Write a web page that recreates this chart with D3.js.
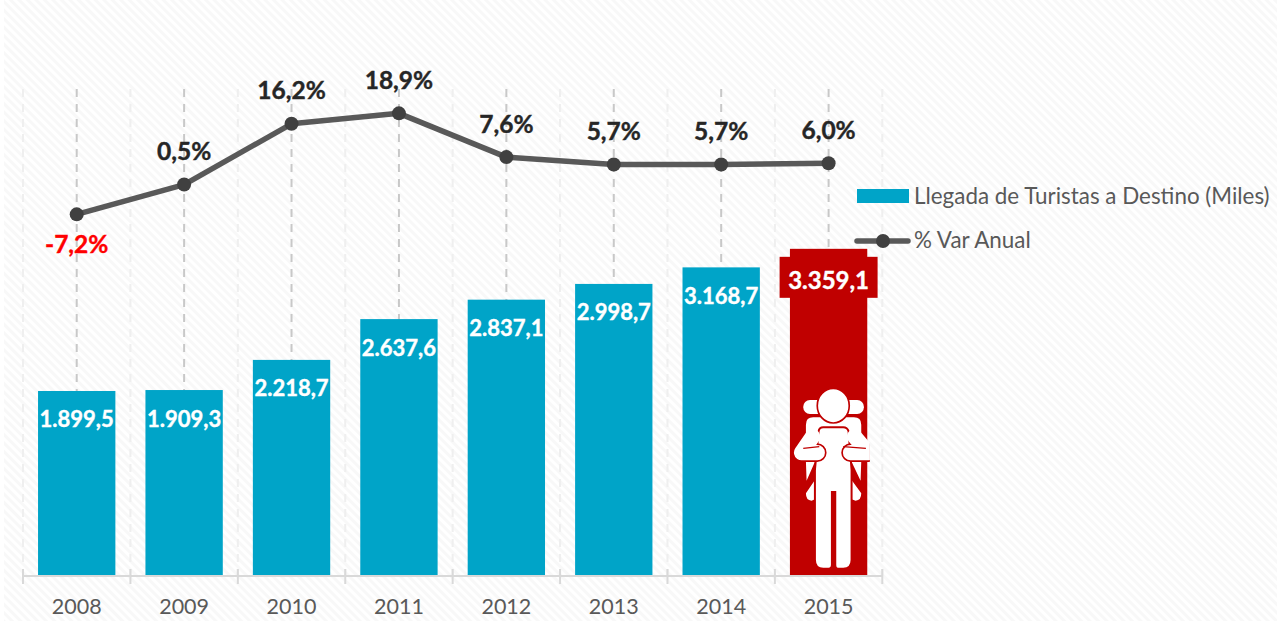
<!DOCTYPE html>
<html>
<head>
<meta charset="utf-8">
<script src="https://cdn.jsdelivr.net/npm/d3@7"></script>
<style>
	html, body { margin: 0; padding: 0; background: #fff; overflow: hidden; }
	svg { display: block; font-family: Lato, "Open Sans", sans-serif; }
	.domain { display: none; }
</style>
</head>
<body>
<svg id="viz" width="1277" height="621"></svg>
<script>
var years = [ '2008', '2009', '2010', '2011', '2012', '2013', '2014', '2015' ];
var arrivals = [ 1899.5, 1909.3, 2218.7, 2637.6, 2837.1, 2998.7, 3168.7, 3359.1 ];
var variation = [ -7.2, 0.5, 16.2, 18.9, 7.6, 5.7, 5.7, 6.0 ];
var legendBar = 'Llegada de Turistas a Destino (Miles)';
var legendLine = '% Var Anual';

var colors = {
	bar: '#00a4c8',
	highlight: '#c00000',
	line: '#595959',
	marker: '#404040',
	label: '#262626',
	negative: '#ff0000',
	axis: '#d9d9d9',
	axisText: '#595959'
};

// Spanish style numbers: 3.359,1 and 5,7%
var fmtValue = function ( v ) {
	var parts = v.toFixed( 1 ).split( '.' );
	return parts[0].replace( /\B(?=(\d{3})+$)/g, '.' ) + ',' + parts[1];
};
var fmtPct = function ( v ) { return v.toFixed( 1 ).replace( '.', ',' ) + '%'; };

var svg = d3.select( '#viz' );
var defs = svg.append( 'defs' );

// Background hatch
var pattern = defs.append( 'pattern' )
	.attr( 'id', 'hatch' )
	.attr( 'width', 6 )
	.attr( 'height', 6 )
	.attr( 'patternUnits', 'userSpaceOnUse' )
	.attr( 'patternTransform', 'rotate(-45)' );
pattern.append( 'rect' ).attr( 'width', 3 ).attr( 'height', 6 ).attr( 'fill', '#f8f8f8' );
svg.append( 'rect' )
	.attr( 'x', 4 ).attr( 'y', 0 )
	.attr( 'width', 1273 ).attr( 'height', 621 )
	.attr( 'fill', 'url(#hatch)' );

var xScale = d3.scaleBand()
	.domain( years )
	.range( [ 23, 882.3 ] )
	.paddingInner( 0.28 )
	.paddingOuter( 0.14 );
var step = xScale.step();
var center = function ( d ) { return xScale( d ) + xScale.bandwidth() / 2; };
var edges = [ 23 ].concat( years.map( function ( d ) { return center( d ) + step / 2; } ) );

var yBar = d3.scaleLinear().domain( [ 0, 4000 ] ).range( [ 576, 186.4 ] );
var yLine = d3.scaleLinear().domain( [ -10, 20 ] ).range( [ 225.2, 109.1 ] );

// Gridlines
svg.append( 'g' ).selectAll( 'line' )
	.data( edges )
	.enter()
	.append( 'line' )
	.attr( 'x1', function ( d ) { return d; } )
	.attr( 'x2', function ( d ) { return d; } )
	.attr( 'y1', 89 ).attr( 'y2', 576 )
	.attr( 'stroke', '#efefef' )
	.attr( 'stroke-width', 2 )
	.attr( 'stroke-dasharray', '8,7' );
svg.append( 'g' ).selectAll( 'line' )
	.data( years )
	.enter()
	.append( 'line' )
	.attr( 'x1', center )
	.attr( 'x2', center )
	.attr( 'y1', 89 ).attr( 'y2', 576 )
	.attr( 'stroke', '#c8c8c8' )
	.attr( 'stroke-width', 2 )
	.attr( 'stroke-dasharray', '8,7' );

// Bars
svg.append( 'g' ).selectAll( 'rect' )
	.data( years )
	.enter()
	.append( 'rect' )
	.attr( 'x', function ( d ) { return xScale( d ); } )
	.attr( 'y', function ( d, i ) { return yBar( arrivals[i] ); } )
	.attr( 'width', xScale.bandwidth() )
	.attr( 'height', function ( d, i ) { return yBar( 0 ) - yBar( arrivals[i] ); } )
	.attr( 'fill', function ( d, i ) { return i === years.length - 1 ? colors.highlight : colors.bar; } );

// Axis
var axis = svg.append( 'g' )
	.attr( 'transform', 'translate(0,576)' )
	.call( d3.axisBottom( xScale ).tickSize( 0 ).tickPadding( 23 ) );
axis.selectAll( 'text' )
	.attr( 'fill', colors.axisText )
	.style( 'font-size', '21.5px' )
	.style( 'font-family', 'Lato, "Open Sans", sans-serif' );
svg.append( 'line' )
	.attr( 'x1', 23 ).attr( 'x2', 882.3 )
	.attr( 'y1', 576 ).attr( 'y2', 576 )
	.attr( 'stroke', colors.axis )
	.attr( 'stroke-width', 2 );
svg.append( 'g' ).selectAll( 'line' )
	.data( edges )
	.enter()
	.append( 'line' )
	.attr( 'x1', function ( d ) { return d; } )
	.attr( 'x2', function ( d ) { return d; } )
	.attr( 'y1', 569 ).attr( 'y2', 584 )
	.attr( 'stroke', colors.axis )
	.attr( 'stroke-width', 2 );

// Traveller icon, drawn in a 3x local space anchored on the last bar
var lastYear = years[years.length - 1];
defs.append( 'clipPath' ).attr( 'id', 'icon-clip' )
	.append( 'rect' )
	.attr( 'x', 90 ).attr( 'y', 470 ).attr( 'width', 240 ).attr( 'height', 560 );
var icon = svg.append( 'g' )
	.attr( 'transform', 'translate(' + ( xScale( lastYear ) - 30 ) + ',' + ( yBar( 0 ) - 346 ) + ') scale(0.3333)' )
	.append( 'g' )
	.attr( 'clip-path', 'url(#icon-clip)' );
icon.append( 'rect' )
	.attr( 'x', 130 ).attr( 'y', 510 ).attr( 'width', 182 ).attr( 'height', 42 ).attr( 'rx', 20 )
	.attr( 'fill', '#fff' );
icon.append( 'path' )
	.attr( 'd', 'M138,584 Q138,562 160,562 H282 Q304,562 304,584 V695 H138 Z' +
		' M138,695 L165,695 L140,752 Z M304,695 L275,695 L302,752 Z' +
		' M165,750 L138,790 Q138,812 155,812 L165,808 Z M275,750 L304,790 Q304,812 287,812 L275,808 Z' )
	.attr( 'fill', '#fff' );
icon.append( 'path' )
	.attr( 'd', 'M190,592 H250 Q262,592 266,604 L275,720 V990 Q275,1016 250,1016 H234 Q226,1016 226,1004 V786 H216 V1004 Q216,1016 206,1016 H190 Q165,1016 165,990 V720 L176,604 Q178,592 190,592 Z' )
	.attr( 'fill', '#fff' )
	.attr( 'stroke', colors.highlight )
	.attr( 'stroke-width', 6 );
// arms: a red outline under the forearm keeps it apart from the torso
icon.append( 'path' )
	.attr( 'd', 'M125,668 L172,668 M272,668 L325,668' )
	.attr( 'stroke', colors.highlight )
	.attr( 'stroke-width', 56 )
	.attr( 'stroke-linecap', 'round' );
icon.append( 'path' )
	.attr( 'd', 'M158,620 L125,668 L172,668 M284,620 L325,668 L272,668' )
	.attr( 'fill', 'none' )
	.attr( 'stroke', '#fff' )
	.attr( 'stroke-width', 46 )
	.attr( 'stroke-linecap', 'round' )
	.attr( 'stroke-linejoin', 'round' );
icon.append( 'path' )
	.attr( 'd', 'M130,655 L178,650 M250,650 L318,655' )
	.attr( 'stroke', colors.highlight )
	.attr( 'stroke-width', 4 );
icon.append( 'ellipse' )
	.attr( 'cx', 220 ).attr( 'cy', 527 ).attr( 'rx', 48 ).attr( 'ry', 52 )
	.attr( 'fill', '#fff' )
	.attr( 'stroke', colors.highlight )
	.attr( 'stroke-width', 5 );

// Bar labels
var lastCenter = center( lastYear );
svg.append( 'rect' )
	.attr( 'x', lastCenter - 49 ).attr( 'y', yBar( arrivals[arrivals.length - 1] ) + 8 )
	.attr( 'width', 98 ).attr( 'height', 41 )
	.attr( 'fill', colors.highlight );
svg.append( 'g' ).selectAll( 'text' )
	.data( years )
	.enter()
	.append( 'text' )
	.attr( 'x', center )
	.attr( 'y', function ( d, i ) { return yBar( arrivals[i] ) + ( i === years.length - 1 ? 31 : 28 ); } )
	.attr( 'text-anchor', 'middle' )
	.attr( 'dominant-baseline', 'central' )
	.attr( 'fill', '#fff' )
	.attr( 'stroke', '#fff' )
	.attr( 'stroke-width', 0.4 )
	.style( 'font-size', function ( d, i ) { return i === years.length - 1 ? '24px' : '22px'; } )
	.style( 'font-weight', 700 )
	.text( function ( d, i ) { return fmtValue( arrivals[i] ); } );

// Line
var line = d3.line()
	.x( function ( d ) { return center( d ); } )
	.y( function ( d, i ) { return yLine( variation[i] ); } );
svg.append( 'path' )
	.attr( 'd', line( years ) )
	.attr( 'fill', 'none' )
	.attr( 'stroke', colors.line )
	.attr( 'stroke-width', 5.5 )
	.attr( 'stroke-linejoin', 'round' );
svg.append( 'g' ).selectAll( 'circle' )
	.data( years )
	.enter()
	.append( 'circle' )
	.attr( 'cx', center )
	.attr( 'cy', function ( d, i ) { return yLine( variation[i] ); } )
	.attr( 'r', 7 )
	.attr( 'fill', colors.marker );
svg.append( 'g' ).selectAll( 'text' )
	.data( years )
	.enter()
	.append( 'text' )
	.attr( 'x', center )
	.attr( 'y', function ( d, i ) { return yLine( variation[i] ) + ( variation[i] < 0 ? 29 : -34 ); } )
	.attr( 'text-anchor', 'middle' )
	.attr( 'dominant-baseline', 'central' )
	.attr( 'fill', function ( d, i ) { return variation[i] < 0 ? colors.negative : colors.label; } )
	.attr( 'stroke', function ( d, i ) { return variation[i] < 0 ? colors.negative : colors.label; } )
	.attr( 'stroke-width', 0.4 )
	.style( 'font-size', '24.5px' )
	.style( 'font-weight', 700 )
	.text( function ( d, i ) { return fmtPct( variation[i] ); } );

// Legend
var legend = svg.append( 'g' );
legend.append( 'rect' )
	.attr( 'x', 857 ).attr( 'y', 189 )
	.attr( 'width', 52 ).attr( 'height', 14 )
	.attr( 'fill', colors.bar );
legend.append( 'line' )
	.attr( 'x1', 857 ).attr( 'x2', 908 )
	.attr( 'y1', 241 ).attr( 'y2', 241 )
	.attr( 'stroke', colors.line )
	.attr( 'stroke-width', 5.5 )
	.attr( 'stroke-linecap', 'round' );
legend.append( 'circle' )
	.attr( 'cx', 883 ).attr( 'cy', 241 ).attr( 'r', 7 )
	.attr( 'fill', colors.marker );
legend.selectAll( 'text' )
	.data( [ legendBar, legendLine ] )
	.enter()
	.append( 'text' )
	.attr( 'x', 914 )
	.attr( 'y', function ( d, i ) { return i === 0 ? 195 : 239; } )
	.attr( 'dominant-baseline', 'central' )
	.attr( 'fill', colors.axisText )
	.style( 'font-size', '22.4px' )
	.text( function ( d ) { return d; } );
</script>
</body>
</html>
